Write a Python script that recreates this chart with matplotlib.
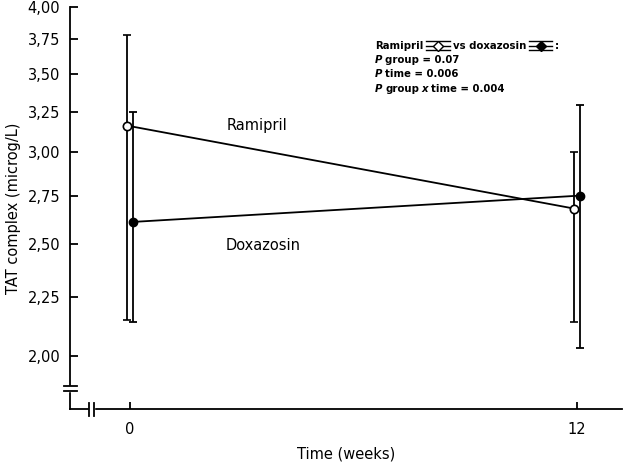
import matplotlib
matplotlib.use("Agg")
import matplotlib.pyplot as plt
from matplotlib.lines import Line2D
from matplotlib.patches import Rectangle
from matplotlib.offsetbox import TextArea, DrawingArea, HPacker, VPacker, AnchoredOffsetbox
from matplotlib.ticker import FixedLocator, FixedFormatter, NullLocator

plt.rcParams['font.family'] = ['DejaVu Sans']

# datos
semanas = [0, 12]
ramipril = [3.16, 2.68]
ramipril_sup = [3.78, 3.00]
ramipril_inf = [2.15, 2.14]
doxazosin = [2.61, 2.75]
doxazosin_sup = [3.25, 3.29]
doxazosin_inf = [2.14, 2.03]

yticks = [2.00, 2.25, 2.50, 2.75, 3.00, 3.25, 3.50, 3.75, 4.00]
ytick_labels = ['2,00', '2,25', '2,50', '2,75', '3,00', '3,25', '3,50', '3,75', '4,00']
xticks = [0, 12]

desplaz = 0.07

fig = plt.figure(figsize=(6.25, 4.66), dpi=100)
ax = fig.add_axes([70 / 625, 1 - 409 / 466, 552 / 625, 402 / 466])

x_r = [x - desplaz for x in semanas]
x_d = [x + desplaz for x in semanas]
err_r = [[m - l for m, l in zip(ramipril, ramipril_inf)],
         [u - m for m, u in zip(ramipril, ramipril_sup)]]
err_d = [[m - l for m, l in zip(doxazosin, doxazosin_inf)],
         [u - m for m, u in zip(doxazosin, doxazosin_sup)]]

ax.errorbar(x_r, ramipril, yerr=err_r, color='black', lw=1.3, elinewidth=1.3,
            capsize=3, capthick=1.3, marker='o', ms=6, mfc='white', mec='black',
            mew=1.2, zorder=3)
ax.errorbar(x_d, doxazosin, yerr=err_d, color='black', lw=1.3, elinewidth=1.3,
            capsize=3, capthick=1.3, marker='o', ms=6, mfc='black', mec='black',
            zorder=3)

ax.set_yscale('log')
ax.set_ylim(1.80, 4.00)
ax.set_xlim(-1.61, 13.21)
ax.yaxis.set_major_locator(FixedLocator(yticks))
ax.yaxis.set_major_formatter(FixedFormatter(ytick_labels))
ax.yaxis.set_minor_locator(NullLocator())
ax.set_xticks(xticks)
ax.set_xticklabels([str(x) for x in xticks])

ax.spines['top'].set_visible(False)
ax.spines['right'].set_visible(False)
ax.spines['left'].set_linewidth(1.3)
ax.spines['bottom'].set_linewidth(1.3)
ax.tick_params(axis='y', direction='in', length=6, width=1.3, pad=7, labelsize=10.5)
ax.tick_params(axis='x', direction='in', length=5, width=1.3, pad=9, labelsize=10.5)

ax.set_xlabel('Time (weeks)', fontsize=10.5, labelpad=7)
ax.set_ylabel('TAT complex (microg/L)', fontsize=10.5, labelpad=5)

ax.text(3.42, 3.16, 'Ramipril', fontsize=10.5, ha='center', va='center')
ax.text(3.57, 2.49, 'Doxazosin', fontsize=10.5, ha='center', va='center')

# cortes de los ejes
t = ax.transAxes
ax.add_patch(Rectangle((-0.015, 0.046), 0.03, 0.011, transform=t, color='white',
                       clip_on=False, zorder=5))
for yy in (0.046, 0.057):
    ax.add_line(Line2D([-0.011, 0.013], [yy, yy], transform=t, color='black',
                       lw=1.3, clip_on=False, zorder=6))
ax.add_patch(Rectangle((0.0344, -0.02), 0.0082, 0.04, transform=t, color='white',
                       clip_on=False, zorder=5))
for xx in (0.0344, 0.0426):
    ax.add_line(Line2D([xx, xx], [-0.017, 0.015], transform=t, color='black',
                       lw=1.3, clip_on=False, zorder=6))


# leyenda con simbolos
def simbolo(relleno):
    da = DrawingArea(17, 8, 0, 0)
    for yy in (0.5, 4.0, 7.5):
        da.add_artist(Line2D([0, 17], [yy, yy], color='black', lw=1.0))
    da.add_artist(Line2D([8.5], [4.0], marker='D', ms=5, mfc=relleno,
                         mec='black', mew=1.0, color='black'))
    return da


fp = dict(size=7.3, weight='bold')
fpi = dict(size=7.3, weight='bold', style='italic')

fila1 = HPacker(children=[TextArea('Ramipril', textprops=fp), simbolo('white'),
                          TextArea('vs doxazosin', textprops=fp), simbolo('black'),
                          TextArea(':', textprops=fp)],
                align='center', pad=0, sep=2)
fila2 = HPacker(children=[TextArea('P', textprops=fpi),
                          TextArea('group = 0.07', textprops=fp)],
                align='baseline', pad=0, sep=2)
fila3 = HPacker(children=[TextArea('P', textprops=fpi),
                          TextArea('time = 0.006', textprops=fp)],
                align='baseline', pad=0, sep=2)
fila4 = HPacker(children=[TextArea('P', textprops=fpi),
                          TextArea('group', textprops=fp),
                          TextArea('x', textprops=fpi),
                          TextArea('time = 0.004', textprops=fp)],
                align='baseline', pad=0, sep=2)
bloque = VPacker(children=[fila1, fila2, fila3, fila4], align='left', pad=0, sep=3)
caja = AnchoredOffsetbox(loc='upper left', child=bloque, frameon=False, pad=0,
                         borderpad=0, bbox_to_anchor=(375 / 625, 1 - 40 / 466),
                         bbox_transform=fig.transFigure)
fig.add_artist(caja)

fig.savefig('out.png', dpi=100)
